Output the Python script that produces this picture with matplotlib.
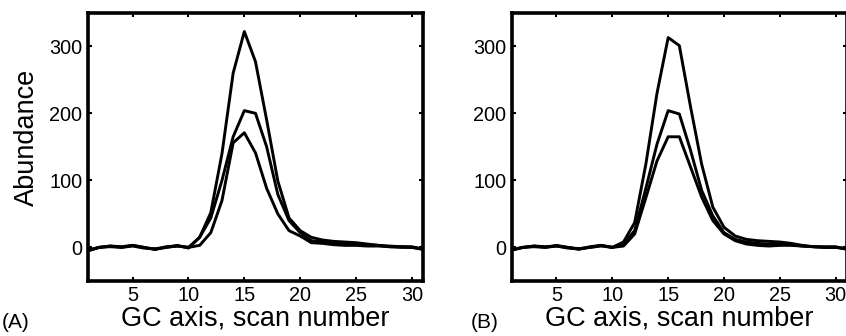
import numpy as np
import matplotlib
matplotlib.use('Agg')
import matplotlib.pyplot as plt

plt.rcParams['font.family'] = ['Liberation Sans', 'DejaVu Sans']

# scan numbers
scan = np.arange(1, 32)

# panel A: three chromatographic profiles
a_high = [-5, 0, 2, 0, 3, 0, -3, 0, 2, 0, 15, 52, 140, 260, 322, 277, 190, 99, 44, 25,
          15, 11, 9, 8, 7, 5, 3, 2, 1, 1, -3]
a_mid = [-5, 0, 1, 0, 2, -1, -2, 0, 3, -1, 15, 44, 100, 165, 204, 200, 150, 79, 40, 22,
         10, 8, 7, 6, 5, 4, 3, 1, 1, 0, -3]
a_low = [-4, 0, 2, 1, 3, 0, -3, 1, 2, 0, 3, 22, 70, 156, 171, 141, 88, 50, 25, 17,
         7, 6, 4, 3, 3, 2, 2, 1, 0, 0, -2]

# panel B
b_high = [-4, 0, 2, 0, 3, 0, -2, 0, 3, 0, 8, 37, 124, 230, 313, 301, 210, 124, 60, 30,
          17, 12, 10, 9, 8, 6, 3, 1, 1, 1, -3]
b_mid = [-4, 0, 1, 0, 2, -1, -2, 0, 2, 0, 5, 25, 88, 154, 204, 199, 145, 85, 47, 22,
         12, 8, 6, 5, 5, 4, 2, 1, 0, 0, -2]
b_low = [-3, 0, 2, 1, 2, 0, -3, 1, 3, 0, 2, 20, 74, 129, 165, 165, 120, 75, 40, 20,
         10, 5, 3, 2, 3, 3, 2, 1, 0, 0, -2]

panels = [('(A)', [a_high, a_mid, a_low]), ('(B)', [b_high, b_mid, b_low])]
lefts = [0.104, 0.605]
tag_x = [0.002, 0.556]

fig = plt.figure(figsize=(8.46, 3.36), dpi=100)

for (tag, curves), left, tx in zip(panels, lefts, tag_x):
    ax = fig.add_axes([left, 0.164, 0.396, 0.798])
    for c in curves:
        ax.plot(scan, c, color='black', lw=2.1)
    ax.set_xlim(1, 31)
    ax.set_ylim(-50, 350)
    ax.set_xticks([5, 10, 15, 20, 25, 30])
    ax.set_yticks([0, 100, 200, 300])
    ax.tick_params(direction='in', length=3, width=1.5, labelsize=14.3,
                   top=True, right=True, pad=4)
    for sp in ax.spines.values():
        sp.set_linewidth(2.6)
    ax.set_xlabel('GC axis, scan number', fontsize=19.5, labelpad=0)
    fig.text(tx, 0.04, tag, fontsize=15, ha='left', va='center')
    if tag == '(A)':
        ax.set_ylabel('Abundance', fontsize=19.5)
        ax.yaxis.set_label_coords(-0.143, 0.535)

fig.savefig('out.png', dpi=100)
